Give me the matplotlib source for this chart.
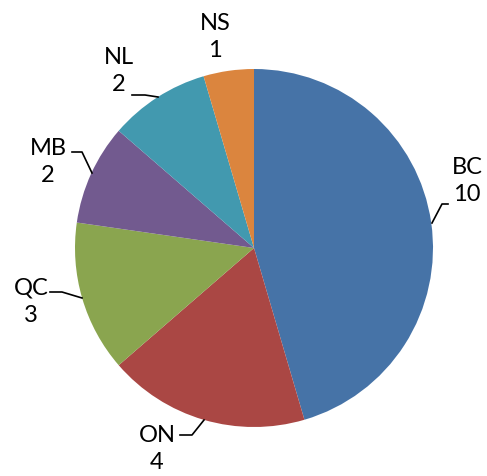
import matplotlib
matplotlib.use("Agg")
import matplotlib.pyplot as plt

labels = ["BC", "ON", "QC", "MB", "NL", "NS"]
values = [10, 4, 3, 2, 2, 1]
colors = ["#4673A7", "#AA4744", "#8AA54F", "#725A8F", "#4299AF", "#DB853E"]

# label centres (pixel) and leader lines (pixel) for layout
label_pos = {"BC": (467, 181), "ON": (157, 449), "QC": (31, 302), "MB": (48, 162),
             "NL": (119, 71), "NS": (215, 37)}
leaders = {"BC": [(448, 204), (442, 204), (432, 223)],
           "ON": [(180, 435), (192, 435), (204, 420)],
           "QC": [(50, 292), (62, 292), (82, 298)],
           "MB": [(72, 152), (82, 152), (92, 173)],
           "NL": [(132, 95), (145, 95), (158, 97)],
           "NS": None}

W, H = 487, 476
cx, cy, R = 254, 248, 179

def px(p):
    return ((p[0] - cx) / R, (cy - p[1]) / R)

fig = plt.figure(figsize=(W / 100, H / 100), dpi=100)
ax = fig.add_axes([0, 0, 1, 1])
ax.pie(values, colors=colors, startangle=90, counterclock=False,
       wedgeprops=dict(linewidth=0))
ax.set_xlim(-cx / R, (W - cx) / R)
ax.set_ylim(-(H - cy) / R, cy / R)
ax.axis("off")

for lab, v in zip(labels, values):
    x, y = px(label_pos[lab])
    ax.text(x, y, f"{lab}\n{v}", ha="center", va="center", fontsize=17,
            family="Lato", linespacing=1.38, color="black")
    pts = leaders[lab]
    if pts:
        xs, ys = zip(*[px(p) for p in pts])
        ax.plot(xs, ys, color="black", lw=1.2)

fig.savefig("out.png", dpi=100)
